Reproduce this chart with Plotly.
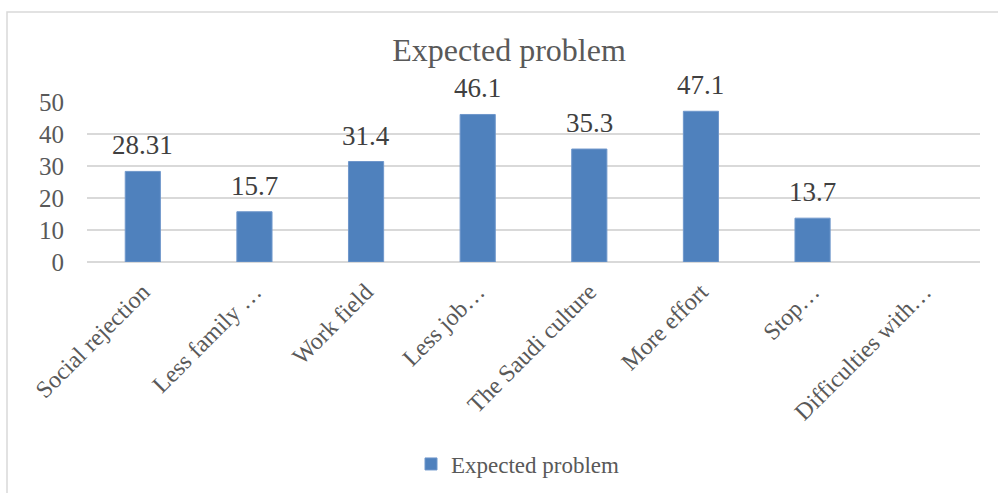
import plotly.graph_objects as go

categories = ["Social rejection", "Less family …", "Work field", "Less job…",
              "The Saudi culture", "More effort", "Stop…", "Difficulties with…"]
values = [28.31, 15.7, 31.4, 46.1, 35.3, 47.1, 13.7, None]
labels = ["28.31", "15.7", "31.4", "46.1", "35.3", "47.1", "13.7", ""]
series_name = "Expected problem"
y_ticks = [0, 10, 20, 30, 40, 50]

FONT = "Liberation Serif"

fig = go.Figure()
fig.add_trace(go.Bar(
    x=categories, y=values, name=series_name,
    marker=dict(color="#4F81BD", line=dict(color="#6F97CB", width=1)),
    showlegend=True,
))

annotations = []
for c, v, t in zip(categories, values, labels):
    if v is None:
        continue
    annotations.append(dict(x=c, y=v, xref="x", yref="y", text=t, showarrow=False,
                            yanchor="bottom", yshift=9,
                            font=dict(family=FONT, size=27, color="#404040")))

L, R, T, B = 87, 18, 102, 231
W, H = 998, 493
pw = W - L - R
ph = H - T - B

def px_x(p):
    return (p - L) / pw

def px_y(p):
    return (H - B - p) / ph

fig.update_layout(
    width=W, height=H,
    margin=dict(l=L, r=R, t=T, b=B, autoexpand=False),
    paper_bgcolor="white", plot_bgcolor="white",
    bargap=0.685,
    font=dict(family=FONT, color="#595959"),
    title=dict(text="Expected problem", x=509 / W, xanchor="center",
               y=1 - 50 / H, yanchor="middle",
               font=dict(family=FONT, size=32, color="#595959")),
    xaxis=dict(tickangle=-45, tickfont=dict(family=FONT, size=24, color="#595959"),
               showgrid=False, showline=False, ticks="", ticklen=0,
               ticklabelstandoff=10),
    yaxis=dict(range=[0, 50], tickvals=y_ticks, showgrid=True, gridcolor="#D9D9D9",
               gridwidth=1.5, zeroline=True, zerolinecolor="#D9D9D9", zerolinewidth=1.5,
               tickfont=dict(family=FONT, size=25, color="#595959"),
               ticks="", ticklabelstandoff=22),
    legend=dict(orientation="h", x=px_x(518), xanchor="center",
                y=px_y(464), yanchor="middle",
                font=dict(family=FONT, size=23, color="#595959"),
                itemwidth=30),
    annotations=annotations,
    shapes=[dict(type="rect", xref="paper", yref="paper",
                 x0=px_x(7), x1=px_x(1003), y0=px_y(500), y1=px_y(12),
                 line=dict(color="#D9D9D9", width=1.5), layer="below")],
)

fig.write_html("out.html")
